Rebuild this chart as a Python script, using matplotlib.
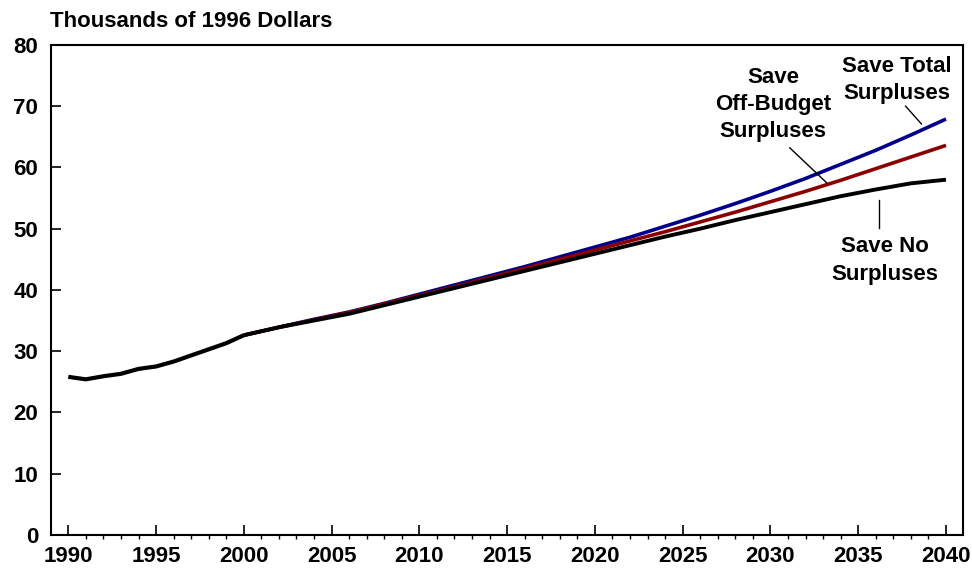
import matplotlib.pyplot as plt

plt.rcParams['font.family'] = ['Liberation Sans', 'DejaVu Sans']
plt.rcParams['font.weight'] = 'bold'

# historical (shared by all three paths)
hist_years = list(range(1990, 2001))
hist_vals = [25.8, 25.4, 25.9, 26.3, 27.1, 27.5, 28.3, 29.3, 30.3, 31.3, 32.6]

# projections
proj_years = [2000, 2002, 2004, 2006, 2008, 2010, 2012, 2014, 2016, 2018, 2020,
              2022, 2024, 2026, 2028, 2030, 2032, 2034, 2036, 2038, 2040]
save_none = [32.6, 33.9, 35.0, 36.1, 37.5, 38.9, 40.3, 41.7, 43.1, 44.5, 45.9,
             47.3, 48.7, 50.0, 51.4, 52.7, 54.0, 55.3, 56.4, 57.4, 58.0]
save_off = [32.6, 33.9, 35.1, 36.3, 37.7, 39.1, 40.5, 42.0, 43.5, 45.0, 46.5,
            48.0, 49.5, 51.1, 52.7, 54.4, 56.1, 57.9, 59.8, 61.7, 63.6]
save_total = [32.6, 33.9, 35.2, 36.4, 37.8, 39.3, 40.8, 42.3, 43.8, 45.4, 47.0,
              48.6, 50.4, 52.2, 54.1, 56.1, 58.2, 60.5, 62.8, 65.3, 67.9]

fig, ax = plt.subplots(figsize=(9.72, 5.69), dpi=100)
fig.subplots_adjust(left=0.0522, right=0.9904, top=0.921, bottom=0.060)

ax.plot(proj_years, save_total, color='#00008B', lw=2.6, solid_capstyle='butt')
ax.plot(proj_years, save_off, color='#8B0000', lw=2.6, solid_capstyle='butt')
ax.plot(proj_years, save_none, color='black', lw=2.8, solid_capstyle='butt')
ax.plot(hist_years, hist_vals, color='black', lw=3, solid_capstyle='butt')

ax.set_xlim(1989.0, 2040.95)
ax.set_ylim(0, 80)
ax.set_xticks(range(1990, 2041, 5))
ax.set_xticks(range(1990, 2041), minor=True)
ax.set_yticks(range(0, 81, 10))
ax.tick_params(axis='both', direction='in', labelsize=16, width=1.2)
ax.tick_params(axis='x', which='major', length=7.5, pad=8)
ax.tick_params(axis='x', which='minor', length=3, width=1)
ax.tick_params(axis='y', length=7.5, pad=9)
for lab in ax.get_xticklabels() + ax.get_yticklabels():
    lab.set_fontweight('bold')
for s in ax.spines.values():
    s.set_linewidth(1.5)

fig.text(0.051, 0.962, 'Thousands of 1996 Dollars', fontsize=16, fontweight='bold',
         ha='left', va='center')

fs = 16
ax.text(2037.2, 74.3, 'Save Total\nSurpluses', fontsize=fs, fontweight='bold',
        ha='center', va='center', linespacing=1.38)
ax.plot([2037.7, 2038.6], [70.0, 67.1], color='black', lw=1)

ax.text(2030.15, 70.3, 'Save\nOff-Budget\nSurpluses', fontsize=fs, fontweight='bold',
        ha='center', va='center', linespacing=1.38)
ax.plot([2031.1, 2033.2], [63.2, 57.5], color='black', lw=1)

ax.text(2036.5, 44.8, 'Save No\nSurpluses', fontsize=fs, fontweight='bold',
        ha='center', va='center', linespacing=1.38)
ax.plot([2036.2, 2036.2], [54.7, 50.1], color='black', lw=1)

fig.savefig('out.png', dpi=100)
